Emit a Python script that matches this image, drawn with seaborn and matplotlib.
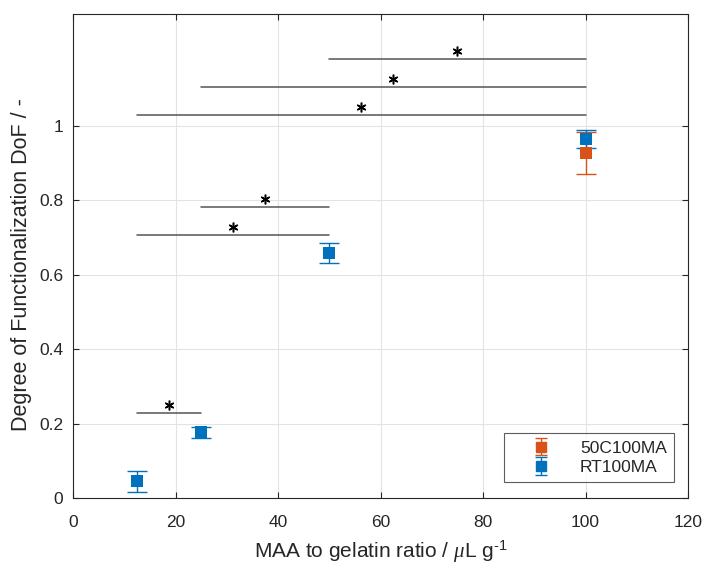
import matplotlib
matplotlib.use("Agg")
import matplotlib.pyplot as plt
import seaborn as sns
import pandas as pd
import numpy as np

# data
rt_x = [12.5, 25, 50, 100]
rt_y = [0.045, 0.177, 0.659, 0.965]
rt_err = [0.028, 0.015, 0.027, 0.024]
c50_x = [100]
c50_y = [0.927]
c50_err = [0.057]
sig_x1 = [12.5, 12.5, 25, 12.5, 25, 50]
sig_x2 = [25, 50, 50, 100, 100, 100]
sig_y = [0.228, 0.707, 0.782, 1.028, 1.103, 1.178]

sns.set_style("white")
plt.rcParams['font.family'] = ['Liberation Sans', 'DejaVu Sans']
plt.rcParams['mathtext.fontset'] = 'custom'
plt.rcParams['mathtext.it'] = 'Liberation Serif:italic'
plt.rcParams['mathtext.rm'] = 'Liberation Sans'

blue = "#0072BD"
orange = "#D95319"

fig = plt.figure(figsize=(7.05, 5.63), dpi=100)
ax = fig.add_axes([73/705, 1-498/563, 615/705, 484/563])

df = pd.concat([
    pd.DataFrame({"x": c50_x, "y": c50_y, "err": c50_err, "s": "50C100MA"}),
    pd.DataFrame({"x": rt_x, "y": rt_y, "err": rt_err, "s": "RT100MA"}),
])

for name, col in [("50C100MA", orange), ("RT100MA", blue)]:
    d = df[df.s == name]
    ax.errorbar(d.x, d.y, yerr=d.err, fmt='none', ecolor=col, elinewidth=1,
                capsize=7.5, capthick=1, zorder=3)
    sns.scatterplot(x="x", y="y", data=d, marker='s', s=78, color=col,
                    edgecolor=col, linewidth=0, ax=ax, zorder=4)

# legend handles
handles = []
for name, col in [("50C100MA", orange), ("RT100MA", blue)]:
    h = ax.errorbar([np.nan], [np.nan], yerr=[0.1], fmt='s', color=col, ecolor=col,
                    markersize=6.5, capsize=4, elinewidth=1, capthick=1)
    handles.append(h)
leg = ax.legend(handles, ["50C100MA", "RT100MA"], loc='lower right',
                bbox_to_anchor=(0.977, 0.033), frameon=True, fancybox=False,
                edgecolor='#333333', fontsize=12.5, handletextpad=0.5,
                borderpad=0.4, labelspacing=0.25, handlelength=3.5,
                borderaxespad=0)
leg.get_frame().set_linewidth(0.8)

# significance bars
for x1, x2, y in zip(sig_x1, sig_x2, sig_y):
    ax.plot([x1, x2], [y, y], color='#555555', lw=1.1, zorder=2)
    ax.plot([(x1 + x2) / 2], [y + 0.022], marker=(6, 2, 0), color='black',
            markersize=7, mew=1.1, zorder=2)

ax.set_xlim(0, 120)
ax.set_ylim(0, 1.3)
ax.set_xticks(np.arange(0, 121, 20))
ax.set_yticks([0, 0.2, 0.4, 0.6, 0.8, 1])
ax.set_yticklabels(["0", "0.2", "0.4", "0.6", "0.8", "1"])
ax.grid(True, color='#e3e3e3', lw=0.8)
ax.set_axisbelow(True)
ax.tick_params(direction='in', length=4, labelsize=12.5, colors='#262626',
               top=True, right=True, bottom=True, left=True, width=0.8)
ax.tick_params(axis='x', pad=12)
ax.tick_params(axis='y', pad=7)
for sp in ax.spines.values():
    sp.set_color('#262626')
    sp.set_linewidth(0.8)
ax.set_xlabel("MAA to gelatin ratio / $\\mu$L g$^{\\mathrm{\u2010}1}$", fontsize=15,
              color='#262626')
ax.set_ylabel("Degree of Functionalization DoF / -", fontsize=15.5, color='#262626')
ax.xaxis.set_label_coords(0.5, -0.085)
ax.yaxis.set_label_coords(-0.066, 0.483)

fig.savefig("out.png", dpi=100)
